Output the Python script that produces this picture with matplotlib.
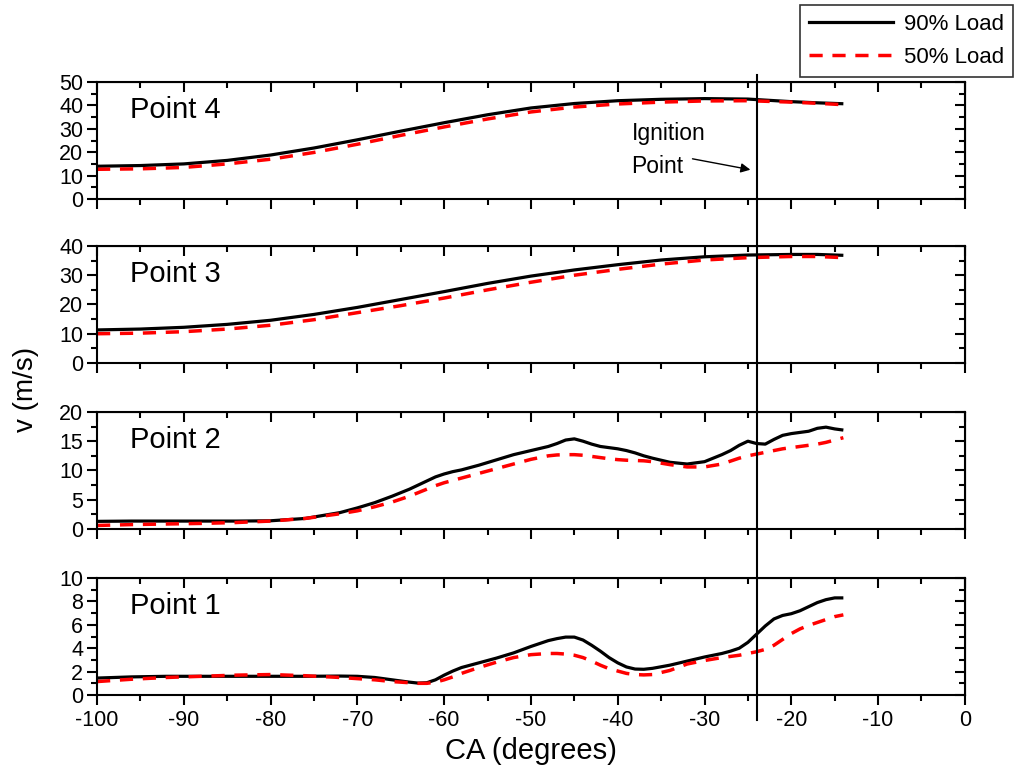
import matplotlib
matplotlib.use("Agg")
import matplotlib.pyplot as plt
from matplotlib.lines import Line2D
from matplotlib.transforms import blended_transform_factory
from matplotlib.ticker import MultipleLocator

plt.rcParams['font.family'] = ['Liberation Sans', 'DejaVu Sans']
plt.rcParams['axes.unicode_minus'] = False

# crank angle grids
ca_12 = [-100, -96, -92, -88, -84, -80, -76, -72, -70, -68, -66, -64, -63, -62, -61, -60,
         -59, -58, -56, -54, -52, -50, -48, -47, -46, -45, -44, -43, -42, -41, -40, -39,
         -38, -37, -36, -34, -32, -30, -28, -27, -26, -25, -24, -23, -22, -21, -20, -19,
         -18, -17, -16, -15, -14]
ca_34 = [-100, -95, -90, -85, -80, -75, -70, -65, -60, -55, -50, -45, -40, -35, -30, -25,
         -20, -17, -14]

# Point 1
p1_90 = [1.45, 1.55, 1.6, 1.6, 1.6, 1.6, 1.6, 1.62, 1.6, 1.5, 1.3, 1.1, 1.02, 1.05, 1.3, 1.7,
         2.05, 2.35, 2.75, 3.15, 3.6, 4.15, 4.65, 4.82, 4.95, 4.95, 4.7, 4.25, 3.75, 3.2, 2.75, 2.4,
         2.22, 2.2, 2.28, 2.55, 2.9, 3.25, 3.55, 3.75, 4.0, 4.5, 5.2, 5.9, 6.5, 6.8, 6.95, 7.2,
         7.55, 7.9, 8.15, 8.3, 8.3]
p1_50 = [1.15, 1.35, 1.5, 1.6, 1.7, 1.75, 1.65, 1.5, 1.4, 1.3, 1.15, 1.05, 1.0, 1.0, 1.1, 1.3,
         1.55, 1.85, 2.35, 2.8, 3.2, 3.45, 3.55, 3.55, 3.5, 3.4, 3.2, 2.9, 2.55, 2.25, 2.05, 1.85,
         1.75, 1.72, 1.75, 2.1, 2.65, 2.95, 3.2, 3.3, 3.4, 3.55, 3.7, 3.9, 4.25, 4.75, 5.25, 5.65,
         5.95, 6.2, 6.45, 6.7, 6.85]

# Point 2
p2_90 = [1.3, 1.35, 1.35, 1.35, 1.35, 1.4, 1.8, 2.8, 3.6, 4.5, 5.6, 6.8, 7.5, 8.2, 8.9, 9.4,
         9.8, 10.1, 10.9, 11.8, 12.7, 13.4, 14.1, 14.6, 15.2, 15.4, 15.0, 14.5, 14.1, 13.9, 13.7, 13.4,
         13.0, 12.5, 12.1, 11.4, 11.1, 11.5, 12.7, 13.4, 14.3, 15.0, 14.6, 14.5, 15.3, 16.0, 16.3, 16.5,
         16.7, 17.2, 17.4, 17.1, 16.9]
p2_50 = [0.6, 0.75, 0.85, 0.95, 1.1, 1.35, 1.8, 2.6, 3.1, 3.8, 4.6, 5.6, 6.2, 6.8, 7.4, 7.9,
         8.3, 8.7, 9.5, 10.3, 11.1, 11.9, 12.5, 12.65, 12.7, 12.7, 12.6, 12.4, 12.2, 12.0, 11.85, 11.75,
         11.7, 11.65, 11.5, 11.0, 10.6, 10.6, 11.1, 11.6, 12.1, 12.5, 12.8, 13.1, 13.4, 13.7, 13.9, 14.1,
         14.3, 14.5, 14.8, 15.2, 15.6]

# Point 3
p3_90 = [11.3, 11.6, 12.2, 13.2, 14.6, 16.6, 19.0, 21.7, 24.4, 27.2, 29.7, 31.8, 33.6, 35.2,
         36.3, 36.9, 37.1, 37.1, 36.8]
p3_50 = [10.0, 10.2, 10.7, 11.6, 12.9, 14.8, 17.2, 19.6, 22.2, 25.0, 27.6, 30.0, 32.0, 33.8,
         35.2, 36.0, 36.4, 36.4, 36.0]

# Point 4
p4_90 = [14.0, 14.3, 15.0, 16.5, 18.8, 21.8, 25.3, 29.0, 32.6, 36.0, 38.9, 40.8, 42.0, 42.6,
         42.9, 42.7, 41.6, 41.1, 40.7]
p4_50 = [12.7, 12.9, 13.5, 15.0, 17.0, 19.9, 23.4, 27.2, 30.8, 34.2, 37.2, 39.3, 40.6, 41.4,
         41.9, 42.0, 41.4, 40.9, 40.3]

ignition_ca = -24

panels = [
    ("Point 1", ca_12, p1_90, p1_50, 10, 2, 1),
    ("Point 2", ca_12, p2_90, p2_50, 20, 5, 2.5),
    ("Point 3", ca_34, p3_90, p3_50, 40, 10, 5),
    ("Point 4", ca_34, p4_90, p4_50, 50, 10, 5),
]

fig = plt.figure(figsize=(10.15, 7.72), dpi=100)
bottoms = [0.0997, 0.3148, 0.5298, 0.7422]
axes = []

for (name, x, y90, y50, ymax, major, minor), b in zip(panels, bottoms):
    ax = fig.add_axes([0.0956, b, 0.855, 0.1516])
    ax.plot(x, y90, color='black', lw=2.3, solid_capstyle='butt')
    ax.plot(x, y50, color='red', lw=2.5, linestyle=(0, (3.8, 2.8)))
    ax.set_xlim(-100, 0)
    ax.set_ylim(0, ymax)
    ax.xaxis.set_major_locator(MultipleLocator(10))
    ax.xaxis.set_minor_locator(MultipleLocator(5))
    ax.yaxis.set_major_locator(MultipleLocator(major))
    ax.yaxis.set_minor_locator(MultipleLocator(minor))
    ax.tick_params(which='major', direction='out', length=7, width=1.5, labelsize=15.5)
    ax.tick_params(which='minor', direction='out', length=4, width=1.5)
    ax.tick_params(axis='x', pad=4)
    ax.tick_params(axis='y', pad=3)
    for s in ax.spines.values():
        s.set_linewidth(1.5)
    # inward ticks on top and right
    top = ax.secondary_xaxis('top')
    top.xaxis.set_major_locator(MultipleLocator(10))
    top.xaxis.set_minor_locator(MultipleLocator(5))
    top.tick_params(which='major', direction='in', length=7, width=1.5, labeltop=False)
    top.tick_params(which='minor', direction='in', length=4, width=1.5)
    right = ax.secondary_yaxis('right')
    right.yaxis.set_major_locator(MultipleLocator(major))
    right.yaxis.set_minor_locator(MultipleLocator(minor))
    right.tick_params(which='major', direction='in', length=7, width=1.5, labelright=False)
    right.tick_params(which='minor', direction='in', length=4, width=1.5)
    ax.text(0.038, 0.76, name, transform=ax.transAxes, fontsize=21, va='center', ha='left')
    if b != bottoms[0]:
        ax.tick_params(axis='x', labelbottom=False)
    axes.append(ax)

ax1 = axes[0]
ax4 = axes[-1]
ax1.set_xlabel("CA (degrees)", fontsize=21, labelpad=4)
fig.text(0.026, 0.495, "v (m/s)", rotation=90, fontsize=20, ha='center', va='center')

# ignition line across all panels
trans = blended_transform_factory(ax1.transData, fig.transFigure)
fig.add_artist(Line2D([ignition_ca, ignition_ca], [0.068, 0.903], transform=trans,
                      color='black', lw=1.5))

ax4.text(-38.4, 28, "Ignition", fontsize=16.5, va='center', ha='left')
ax4.text(-38.4, 14, "Point", fontsize=16.5, va='center', ha='left')
ax4.annotate("", xy=(-24.4, 12.3), xytext=(-31.7, 17.4),
             arrowprops=dict(arrowstyle='-|>', color='black', lw=1, mutation_scale=14))

handles = [Line2D([], [], color='black', lw=2.3),
           Line2D([], [], color='red', lw=2.5, linestyle=(0, (3.8, 2.8)))]
leg = fig.legend(handles, ["90% Load", "50% Load"], loc='upper left',
                 bbox_to_anchor=(0.788, 0.994), fontsize=16, frameon=True, fancybox=False,
                 edgecolor='black', handlelength=3.8, borderpad=0.4, labelspacing=0.55,
                 handletextpad=0.5, borderaxespad=0)
leg.get_frame().set_linewidth(1.2)

fig.savefig("out.png", dpi=100)
